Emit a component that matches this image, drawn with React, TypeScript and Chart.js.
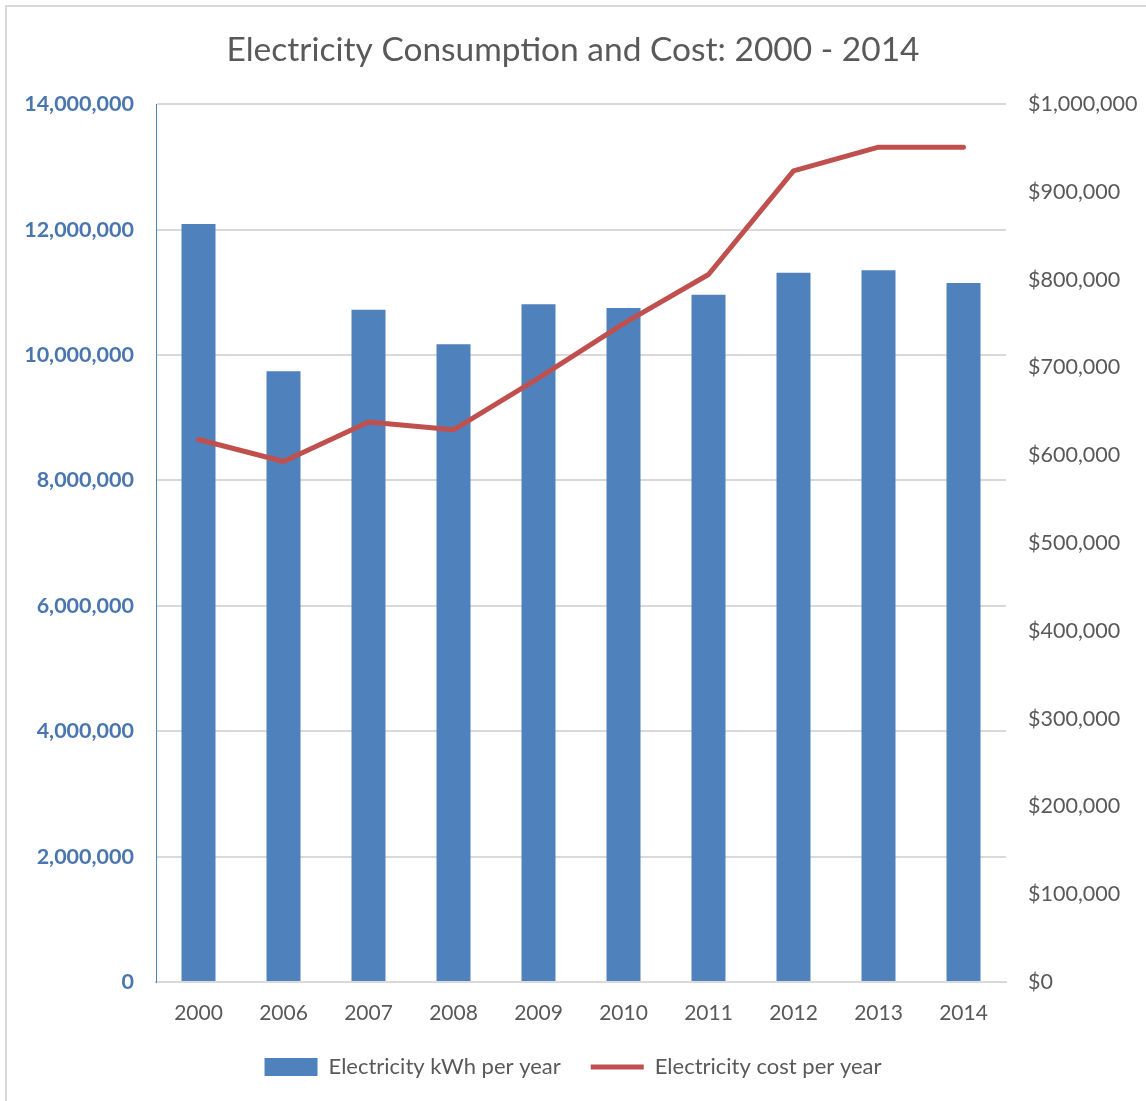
import React, { useEffect, useRef } from "react";
import { Chart, registerables } from "chart.js";

Chart.register(...registerables);

const years = ["2000", "2006", "2007", "2008", "2009", "2010", "2011", "2012", "2013", "2014"];
const kwhPerYear = [12090000, 9740000, 10720000, 10170000, 10810000, 10750000, 10960000, 11310000, 11350000, 11150000];
const costPerYear = [618000, 593000, 638000, 629000, 688000, 750000, 806000, 924000, 951000, 951000];
const titleText = "Electricity Consumption and Cost: 2000 - 2014";
const barLabel = "Electricity kWh per year";
const lineLabel = "Electricity cost per year";

const FONT = "Lato, 'Open Sans', sans-serif";
const GRAY = "#595959";

const framePlugin = {
  id: "frame",
  beforeDraw(chart: any) {
    const ctx = chart.ctx;
    ctx.save();
    ctx.fillStyle = "#ffffff";
    ctx.fillRect(0, 0, chart.width, chart.height);
    ctx.strokeStyle = "#d9d9d9";
    ctx.lineWidth = 2;
    ctx.beginPath();
    ctx.moveTo(6, chart.height);
    ctx.lineTo(6, 6);
    ctx.lineTo(chart.width, 6);
    ctx.stroke();
    ctx.restore();
  },
};

export default function App() {
  const ref = useRef<HTMLCanvasElement | null>(null);
  useEffect(() => {
    if (!ref.current) return;
    const chart = new Chart(ref.current, {
      type: "bar",
      data: {
        labels: years,
        datasets: [
          {
            type: "bar",
            label: barLabel,
            data: kwhPerYear,
            backgroundColor: "#4f81bd",
            borderWidth: 0,
            barPercentage: 0.4,
            categoryPercentage: 1,
            yAxisID: "y",
            order: 2,
            pointStyle: "rect",
          } as any,
          {
            type: "line",
            label: lineLabel,
            data: costPerYear,
            borderColor: "#c0504d",
            backgroundColor: "#c0504d",
            borderWidth: 5,
            borderCapStyle: "round",
            borderJoinStyle: "round",
            pointRadius: 0,
            pointHoverRadius: 0,
            tension: 0,
            yAxisID: "y1",
            order: 1,
            pointStyle: "line",
          } as any,
        ],
      },
      options: {
        animation: false,
        responsive: false,
        layout: { padding: { left: 0, right: 0, top: 0, bottom: 13 } },
        plugins: {
          title: {
            display: true,
            text: titleText,
            color: GRAY,
            font: { family: FONT, size: 33.5, weight: "normal" },
            padding: { top: 30, bottom: 34 },
          },
          legend: {
            position: "bottom",
            labels: {
              usePointStyle: true,
              pointStyleWidth: 53,
              boxHeight: 18,
              color: GRAY,
              font: { family: FONT, size: 22 },
              padding: 30,
              sort: (a: any, b: any) => a.datasetIndex - b.datasetIndex,
            },
          },
          tooltip: { enabled: false },
        },
        scales: {
          x: {
            offset: true,
            grid: { display: false, drawTicks: false },
            border: { color: "#d9d9d9", width: 2 },
            ticks: { color: GRAY, font: { family: FONT, size: 21 }, padding: 19 },
            afterFit: (s: any) => {
              s.height = 44;
            },
          },
          y: {
            position: "left",
            min: 0,
            max: 14000000,
            ticks: {
              stepSize: 2000000,
              color: "#4a76b0",
              font: { family: FONT, size: 21.5, weight: "bold" },
              padding: 22,
              callback: (v: any) => Number(v).toLocaleString("en-US"),
            },
            grid: { color: "#d9d9d9", drawTicks: false, lineWidth: 2 },
            border: { color: "#4f81bd", width: 1 },
            afterFit: (s: any) => {
              s.width = 156;
            },
          },
          y1: {
            position: "right",
            min: 0,
            max: 1000000,
            ticks: {
              stepSize: 100000,
              color: GRAY,
              font: { family: FONT, size: 21.5 },
              padding: 22,
              callback: (v: any) => "$" + Number(v).toLocaleString("en-US"),
            },
            grid: { drawOnChartArea: false, drawTicks: false },
            border: { display: false },
            afterFit: (s: any) => {
              s.width = 140;
            },
          },
        },
      },
      plugins: [framePlugin],
    });
    return () => chart.destroy();
  }, []);
  return (
    <div style={{ position: "absolute", left: 0, top: 0, width: 1146, height: 1101 }}>
      <canvas ref={ref} width={1146} height={1101} style={{ display: "block" }} />
    </div>
  );
}
